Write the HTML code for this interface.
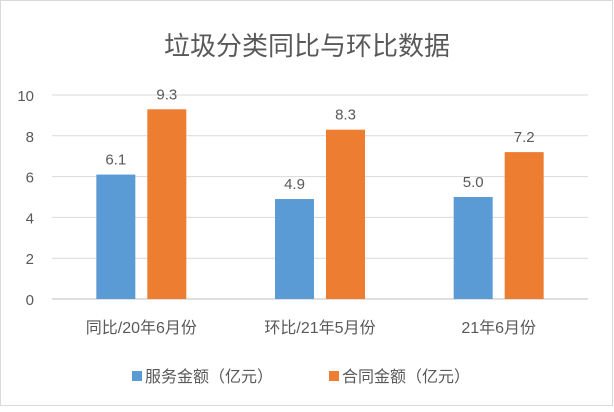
<!DOCTYPE html>
<html><head><meta charset="utf-8"><style>
body{margin:0;background:#fff}
svg text{font-family:"Liberation Sans","Noto Sans CJK SC",sans-serif}
</style></head><body>
<svg width="614" height="407" viewBox="0 0 614 407" xmlns="http://www.w3.org/2000/svg">
<rect x="0.5" y="0.5" width="612" height="405" fill="#fff" stroke="#d9d9d9"/>
<text x="307" y="55" text-anchor="middle" font-size="26" fill="#595959">垃圾分类同比与环比数据</text>
<g id="grid"></g><g id="bars"></g>
<g>
<rect x="132" y="371" width="10" height="10" fill="#5b9bd5"/>
<text x="145" y="382" font-size="16" fill="#595959">服务金额（亿元）</text>
<rect x="329" y="371" width="10" height="10" fill="#ed7d31"/>
<text x="342" y="382" font-size="16" fill="#595959">合同金额（亿元）</text>
</g>
</svg>
<script>
const categories=["同比/20年6月份","环比/21年5月份","21年6月份"];
const serviceValues=[6.1,4.9,5.0];
const contractValues=[9.3,8.3,7.2];
const tickLabels=[0,2,4,6,8,10];
const NS="http://www.w3.org/2000/svg";
const y0=299,y1=95,vmax=10,left=52,right=588;
const y=v=>y0-(v/vmax)*(y0-y1);
const band=(right-left)/categories.length;
const cx=i=>left+band*(i+0.5);
const grid=document.getElementById('grid'),bars=document.getElementById('bars');
function mk(tag,attrs,parent,txt){const e=document.createElementNS(NS,tag);for(const k in attrs)e.setAttribute(k,attrs[k]);if(txt!==undefined)e.textContent=txt;parent.appendChild(e);return e;}
tickLabels.forEach(t=>{
 const l=mk('line',{x1:left,x2:right,y1:y(t),y2:y(t),stroke:t===0?'#bfbfbf':'#d9d9d9','stroke-width':1},grid);
 
 
 const tx=mk('text',{x:34,y:y(t)+6,'text-anchor':'end','font-size':15,fill:'#595959'},grid,String(t));
 
 
});
const bw=39,gap=12;
categories.forEach((c,i)=>{
 const c0=cx(i);
 [[serviceValues,'#5b9bd5',-1,'service'],[contractValues,'#ed7d31',1,'contract']].forEach(([arr,col,s,nm])=>{
  const v=arr[i];
  const x=s<0?c0-gap/2-bw:c0+gap/2;
  const r=mk('rect',{x:x,y:y(v),width:bw,height:y0-y(v),fill:col},bars);
  
  
  const t=mk('text',{x:x+bw/2,y:y(v)-10,'text-anchor':'middle','font-size':15,fill:'#595959'},bars,v.toFixed(1));
  
  
 });
 const t=mk('text',{x:c0,y:333,'text-anchor':'middle','font-size':16,fill:'#595959'},bars,c);
 
 
});
</script>
</body></html>
